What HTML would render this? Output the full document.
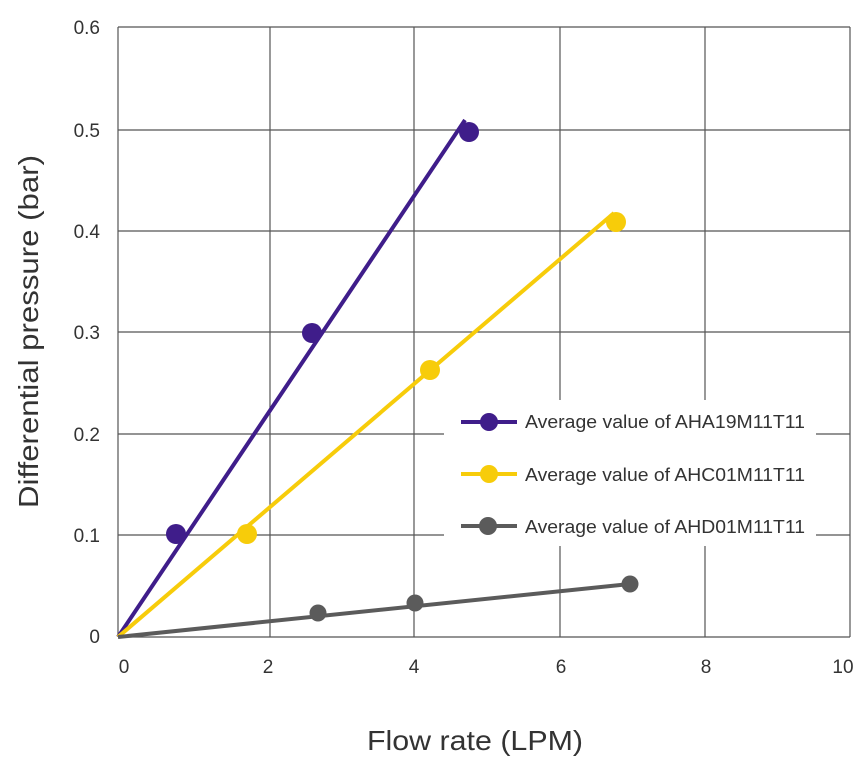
<!DOCTYPE html><html><head><style>body{margin:0;background:#fff}</style></head><body>
<svg width="865" height="765" xmlns="http://www.w3.org/2000/svg" font-family="Liberation Sans, sans-serif">
<rect width="865" height="765" fill="#fff"/>
<g stroke="#555" stroke-width="1.2" fill="none">
<line x1="118" y1="27" x2="850" y2="27"/><line x1="118" y1="130" x2="850" y2="130"/><line x1="118" y1="231" x2="850" y2="231"/><line x1="118" y1="332" x2="850" y2="332"/><line x1="118" y1="434" x2="850" y2="434"/><line x1="118" y1="535" x2="850" y2="535"/><line x1="118" y1="637" x2="850" y2="637"/>
<line x1="118" y1="27" x2="118" y2="637"/><line x1="270" y1="27" x2="270" y2="637"/><line x1="414" y1="27" x2="414" y2="637"/><line x1="560" y1="27" x2="560" y2="637"/><line x1="705" y1="27" x2="705" y2="637"/><line x1="850" y1="27" x2="850" y2="637"/>
</g>
<rect x="444" y="400" width="372" height="146" fill="#fff"/>
<g stroke-width="4" fill="none">
<line x1="118" y1="637" x2="465" y2="120" stroke="#3f1d8a"/>
<line x1="118" y1="637" x2="614" y2="213" stroke="#f7cc0a"/>
<line x1="118" y1="637" x2="630" y2="584" stroke="#5b5b5b"/>
</g>
<g fill="#3f1d8a"><circle cx="176" cy="534" r="10"/><circle cx="312" cy="333" r="10"/><circle cx="469" cy="132" r="10"/></g>
<g fill="#f7cc0a"><circle cx="247" cy="534" r="10"/><circle cx="430" cy="370" r="10"/><circle cx="616" cy="222" r="10"/></g>
<g fill="#5b5b5b"><circle cx="318" cy="613" r="8.5"/><circle cx="415" cy="603" r="8.5"/><circle cx="630" cy="584" r="8.5"/></g>
<g stroke-width="4"><line x1="461" y1="422" x2="517" y2="422" stroke="#3f1d8a"/><line x1="461" y1="474" x2="517" y2="474" stroke="#f7cc0a"/><line x1="461" y1="526" x2="517" y2="526" stroke="#5b5b5b"/></g>
<circle cx="489" cy="422" r="9" fill="#3f1d8a"/><circle cx="489" cy="474" r="9" fill="#f7cc0a"/><circle cx="488" cy="526" r="9" fill="#5b5b5b"/>
<g font-size="18" fill="#333"><text x="525" y="428" textLength="280" lengthAdjust="spacingAndGlyphs">Average value of AHA19M11T11</text><text x="525" y="481" textLength="280" lengthAdjust="spacingAndGlyphs">Average value of AHC01M11T11</text><text x="525" y="533" textLength="280" lengthAdjust="spacingAndGlyphs">Average value of AHD01M11T11</text></g>
<g font-size="19" fill="#333" text-anchor="end"><text x="100" y="34">0.6</text><text x="100" y="137">0.5</text><text x="100" y="238">0.4</text><text x="100" y="339">0.3</text><text x="100" y="441">0.2</text><text x="100" y="542">0.1</text><text x="100" y="643">0</text></g>
<g font-size="19" fill="#333" text-anchor="middle"><text x="124" y="673">0</text><text x="268" y="673">2</text><text x="414" y="673">4</text><text x="561" y="673">6</text><text x="706" y="673">8</text><text x="843" y="673">10</text></g>
<text x="367" y="750" font-size="28" fill="#333" textLength="216" lengthAdjust="spacingAndGlyphs">Flow rate (LPM)</text>
<text transform="translate(38,508) rotate(-90)" font-size="28" fill="#333" textLength="353" lengthAdjust="spacingAndGlyphs">Differential pressure (bar)</text>
</svg></body></html>
